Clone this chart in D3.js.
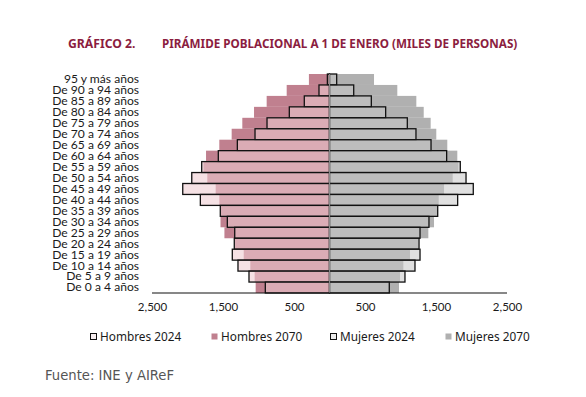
<!DOCTYPE html>
<html>
<head>
<meta charset="utf-8">
<script src="https://cdn.jsdelivr.net/npm/d3@7"></script>
<style>
  html, body { margin: 0; padding: 0; background: #fff; }
  svg { display: block; }
</style>
</head>
<body>
<svg id="chart" width="586" height="397"></svg>
<script>
// ---- Data (thousands of persons) ----
const ageGroups = [
  "95 y más años", "De 90 a 94 años", "De 85 a 89 años", "De 80 a 84 años",
  "De 75 a 79 años", "De 70 a 74 años", "De 65 a 69 años", "De 60 a 64 años",
  "De 55 a 59 años", "De 50 a 54 años", "De 45 a 49 años", "De 40 a 44 años",
  "De 35 a 39 años", "De 30 a 34 años", "De 25 a 29 años", "De 20 a 24 años",
  "De 15 a 19 años", "De 10 a 14 años", "De 5 a 9 años", "De 0 a 4 años"
];
const hombres2024 = [30, 148, 355, 566, 880, 1049, 1298, 1566, 1800, 1940, 2067, 1819, 1538, 1439, 1335, 1341, 1369, 1289, 1134, 904];
const hombres2070 = [290, 603, 885, 1063, 1228, 1378, 1552, 1739, 1775, 1721, 1603, 1552, 1530, 1535, 1480, 1330, 1208, 1115, 1054, 1040];
const mujeres2024 = [101, 341, 589, 791, 1096, 1218, 1430, 1650, 1842, 1923, 2025, 1805, 1524, 1401, 1275, 1261, 1275, 1204, 1063, 842];
const mujeres2070 = [627, 955, 1223, 1327, 1425, 1504, 1659, 1800, 1815, 1735, 1613, 1538, 1515, 1472, 1392, 1255, 1134, 1040, 993, 979];
const tickValues = [-2500, -1500, -500, 500, 1500, 2500];
const legendLabels = ["Hombres 2024", "Hombres 2070", "Mujeres 2024", "Mujeres 2070"];
const titleLabel = "GRÁFICO 2.";
const titleText = "PIRÁMIDE POBLACIONAL A 1 DE ENERO (MILES DE PERSONAS)";
const sourceText = "Fuente: INE y AIReF";

// ---- Styles ----
const C = {
  title: "#8b1d40",
  h70: "#c0808f",
  h24: "rgba(238,203,209,0.58)",
  m70: "#b0b0b0",
  m24: "rgba(199,199,199,0.56)",
  text: "#1a1a1a"
};
const gothic = "'Noto Sans', 'DejaVu Sans', sans-serif";
const wide = "'DejaVu Sans', 'Noto Sans', sans-serif";
const gill = "Lato, 'Open Sans', sans-serif";

const svg = d3.select("#chart");

const x = d3.scaleLinear().domain([-2500, 2500]).range([152, 507]);
const y = d3.scaleBand().domain(ageGroups).range([74, 293]).padding(0);

const rows = ageGroups.map((a, i) => ({
  age: a, h24: hombres2024[i], h70: hombres2070[i], m24: mujeres2024[i], m70: mujeres2070[i]
}));

// Title
svg.append("text").attr("x", 68).attr("y", 48)
  .attr("font-family", gothic).attr("font-weight", "bold").attr("font-size", 12.2)
  .attr("fill", C.title).text(titleLabel);
svg.append("text").attr("x", 162).attr("y", 48)
  .attr("font-family", gothic).attr("font-weight", "bold").attr("font-size", 11.7)
  .attr("fill", C.title).text(titleText);

const g = svg.append("g");

// 2070 bars (behind)
g.selectAll(".h70").data(rows).join("rect")
  .attr("x", d => x(-d.h70)).attr("y", d => y(d.age))
  .attr("width", d => x(0) - x(-d.h70)).attr("height", y.bandwidth())
  .attr("fill", C.h70);
g.selectAll(".m70").data(rows).join("rect")
  .attr("x", x(0)).attr("y", d => y(d.age))
  .attr("width", d => x(d.m70) - x(0)).attr("height", y.bandwidth())
  .attr("fill", C.m70);

// 2024 bars (front, outlined, translucent)
g.selectAll(".h24").data(rows).join("rect")
  .attr("x", d => x(-d.h24)).attr("y", d => y(d.age))
  .attr("width", d => x(0) - x(-d.h24)).attr("height", y.bandwidth())
  .attr("fill", C.h24).attr("stroke", "#111").attr("stroke-width", 1.3);
g.selectAll(".m24").data(rows).join("rect")
  .attr("x", x(0)).attr("y", d => y(d.age))
  .attr("width", d => x(d.m24) - x(0)).attr("height", y.bandwidth())
  .attr("fill", C.m24).attr("stroke", "#111").attr("stroke-width", 1.3);

// Center line
svg.append("line").attr("x1", x(0)).attr("x2", x(0))
  .attr("y1", y.range()[0]).attr("y2", y.range()[1])
  .attr("stroke", "#8a8a8a").attr("stroke-width", 1.2);

// Baseline
svg.append("line").attr("x1", x(-2500)).attr("x2", x(2500))
  .attr("y1", 293).attr("y2", 293).attr("stroke", "#111").attr("stroke-width", 1.2);

// X axis labels
const xAxis = d3.axisBottom(x).tickValues(tickValues).tickSize(0).tickPadding(10)
  .tickFormat(v => d3.format(",")(Math.abs(v)));
const xg = svg.append("g").attr("transform", "translate(0,293)").call(xAxis);
xg.select(".domain").remove();
xg.selectAll("text").attr("font-family", gill).attr("font-size", 11.5).attr("fill", C.text);

// Y axis labels
const yAxis = d3.axisLeft(y).tickSize(0).tickPadding(0);
const yg = svg.append("g").attr("transform", "translate(139,0)").call(yAxis);
yg.select(".domain").remove();
yg.selectAll("text").attr("font-family", gill).attr("font-size", 12.1).attr("fill", C.text);

// Legend
const legendX = [90, 211, 330, 445];
const legendStyle = [
  { fill: "#f7eef0", stroke: "#111" },
  { fill: C.h70, stroke: "none" },
  { fill: "#ececec", stroke: "#111" },
  { fill: C.m70, stroke: "none" }
];
const lg = svg.append("g");
legendLabels.forEach((lab, i) => {
  lg.append("rect").attr("x", legendX[i] + 0.5).attr("y", 333.5).attr("width", 6).attr("height", 6)
    .attr("fill", legendStyle[i].fill).attr("stroke", legendStyle[i].stroke).attr("stroke-width", 1);
  lg.append("text").attr("x", legendX[i] + 10).attr("y", 341)
    .attr("font-family", gothic).attr("font-size", 11.8).attr("fill", C.text).text(lab);
});

// Source
svg.append("text").attr("x", 45).attr("y", 379.5)
  .attr("font-family", wide).attr("font-size", 13.2).attr("fill", "#555").text(sourceText);
</script>
</body>
</html>
